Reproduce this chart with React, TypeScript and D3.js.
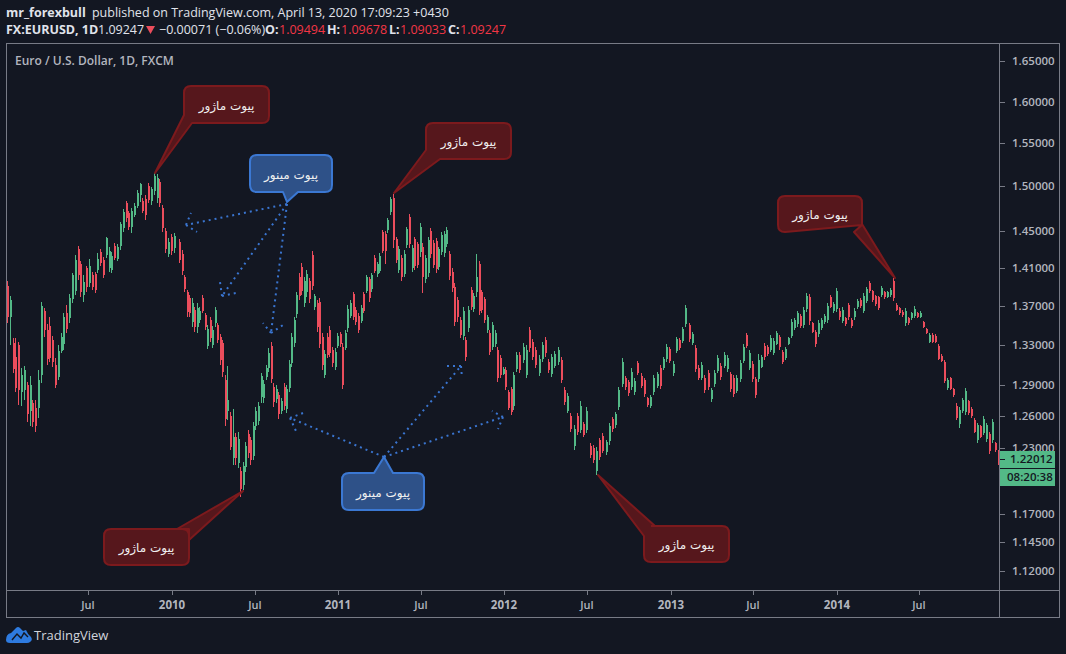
import React from "react";
import * as d3 from "d3";

const BG = "#131722", GREEN = "#53b987", RED = "#eb4d5c", AXIS = "#787b86", LABEL = "#b2b5be";

// Bars, one stretch at a time.
const datesA = ["2009-01-03", "2010-01-04"];
const highA = [1.396,1.3802,1.3365,1.3371,1.3325,1.3063,1.3087,1.2933,1.2991,1.2753,1.2753,1.3047,1.3743,1.3673,1.3508,1.3586,1.3389,1.3163,1.3297,1.3416,1.3621,1.3708,1.3823,1.4042,1.4238,1.4337,1.4177,1.4025,1.4123,1.4191,1.406,1.406,1.4257,1.43,1.4213,1.4439,1.4322,1.4275,1.4366,1.4358,1.4604,1.4741,1.4839,1.4726,1.4752,1.4809,1.496,1.5043,1.4865,1.4903,1.5035,1.4998,1.515,1.5142,1.5081,1.479,1.453,1.442,1.4469,1.4483];
const lowA = [1.3518,1.3297,1.3021,1.2834,1.2705,1.2698,1.2753,1.2545,1.2507,1.2498,1.245,1.2577,1.2916,1.3382,1.3097,1.313,1.308,1.2866,1.2949,1.3213,1.3247,1.3416,1.3518,1.3725,1.3813,1.3971,1.3795,1.3743,1.3848,1.3893,1.3865,1.383,1.4042,1.4116,1.3996,1.4202,1.406,1.4042,1.4184,1.4173,1.4293,1.4494,1.4604,1.4512,1.4476,1.4659,1.4752,1.4827,1.4697,1.4622,1.4809,1.479,1.4903,1.4809,1.4771,1.4494,1.4257,1.4213,1.4238,1.4264];
const openA = [1.391,1.358,1.332,1.318,1.33,1.283,1.285,1.29,1.265,1.272,1.268,1.268,1.3,1.365,1.345,1.349,1.335,1.31,1.298,1.324,1.331,1.362,1.357,1.377,1.386,1.43,1.414,1.381,1.41,1.394,1.402,1.404,1.408,1.427,1.418,1.424,1.41,1.408,1.434,1.42,1.434,1.453,1.481,1.47,1.454,1.468,1.478,1.49,1.484,1.486,1.501,1.484,1.495,1.487,1.505,1.476,1.45,1.425,1.443,1.431];
const closeA = [1.358,1.376,1.306,1.287,1.285,1.3,1.305,1.262,1.29,1.254,1.25,1.295,1.37,1.345,1.316,1.317,1.313,1.29,1.324,1.338,1.358,1.346,1.378,1.402,1.418,1.402,1.384,1.395,1.39,1.412,1.39,1.387,1.42,1.415,1.402,1.442,1.428,1.423,1.421,1.433,1.458,1.471,1.465,1.455,1.472,1.478,1.492,1.503,1.472,1.468,1.485,1.497,1.512,1.51,1.481,1.453,1.43,1.438,1.428,1.445];

const datesB = ["2010-01-16", "2011-01-04"];
const highB = [1.4409,1.4293,1.4024,1.3865,1.3812,1.3777,1.3684,1.3725,1.3691,1.3812,1.3622,1.3501,1.358,1.3491,1.3684,1.3525,1.3409,1.3348,1.2998,1.3087,1.2641,1.2663,1.2434,1.245,1.2125,1.2171,1.2356,1.2466,1.2403,1.2545,1.2689,1.2737,1.3021,1.2949,1.3097,1.3264,1.3324,1.2923,1.29,1.2834,1.2769,1.2916,1.29,1.3147,1.3416,1.3587,1.3848,1.4042,1.4148,1.3999,1.4077,1.3989,1.4282,1.3823,1.376,1.3777,1.3416,1.3247,1.3416,1.3491,1.3281,1.3264,1.3416,1.3433];
const lowB = [1.4148,1.4024,1.3848,1.3587,1.3587,1.3484,1.3433,1.3423,1.3518,1.3622,1.345,1.3257,1.3331,1.3264,1.3484,1.3314,1.3097,1.2982,1.2504,1.2561,1.2279,1.214,1.214,1.2109,1.185,1.1911,1.2079,1.2202,1.214,1.2186,1.2466,1.2513,1.2721,1.2727,1.2949,1.3031,1.2916,1.2689,1.2721,1.2571,1.2615,1.2657,1.2631,1.2834,1.3081,1.3281,1.357,1.376,1.3812,1.3691,1.3795,1.3725,1.3865,1.3656,1.3433,1.3264,1.3047,1.2965,1.3164,1.318,1.3081,1.3047,1.3264,1.3281];
const openB = [1.438,1.425,1.4,1.384,1.378,1.353,1.366,1.348,1.355,1.378,1.36,1.329,1.355,1.33,1.352,1.35,1.338,1.332,1.295,1.265,1.26,1.22,1.24,1.216,1.208,1.196,1.212,1.243,1.237,1.222,1.25,1.255,1.278,1.277,1.298,1.307,1.329,1.288,1.276,1.28,1.265,1.288,1.267,1.287,1.312,1.332,1.361,1.4,1.411,1.373,1.384,1.396,1.424,1.369,1.373,1.374,1.338,1.3,1.338,1.345,1.325,1.308,1.329,1.341];
const closeB = [1.418,1.407,1.388,1.364,1.362,1.373,1.348,1.368,1.365,1.365,1.348,1.346,1.337,1.345,1.366,1.335,1.315,1.303,1.257,1.275,1.231,1.24,1.22,1.238,1.192,1.213,1.232,1.225,1.219,1.25,1.265,1.27,1.299,1.291,1.307,1.322,1.296,1.273,1.286,1.262,1.274,1.27,1.286,1.311,1.338,1.355,1.381,1.38,1.386,1.396,1.404,1.377,1.391,1.38,1.348,1.331,1.31,1.321,1.32,1.322,1.312,1.323,1.339,1.331];

const datesC = ["2011-01-09", "2012-01-21"];
const highC = [1.3314,1.345,1.3708,1.376,1.3848,1.369,1.3622,1.3708,1.3848,1.4024,1.4006,1.4042,1.4239,1.4166,1.4257,1.4512,1.4505,1.4641,1.4884,1.4914,1.4439,1.4336,1.4239,1.4293,1.4549,1.4689,1.4347,1.4439,1.4384,1.4585,1.4366,1.4239,1.4439,1.4538,1.4402,1.442,1.4329,1.4494,1.4505,1.4542,1.4286,1.4095,1.3936,1.3795,1.3586,1.369,1.3382,1.3697,1.39,1.383,1.4246,1.4177,1.3865,1.3795,1.3605,1.345,1.3535,1.345,1.3281,1.3197,1.308,1.308,1.285,1.2882,1.3031];
const lowC = [1.286,1.3247,1.3433,1.3569,1.3552,1.3501,1.3423,1.3518,1.3622,1.383,1.3743,1.3848,1.4042,1.3999,1.4042,1.4257,1.4141,1.4482,1.4678,1.4311,1.4148,1.4042,1.3964,1.4006,1.4311,1.4311,1.4059,1.4077,1.4095,1.422,1.383,1.3943,1.4006,1.4202,1.4095,1.4042,1.4077,1.4239,1.422,1.4329,1.3971,1.3848,1.3491,1.3535,1.3365,1.3348,1.314,1.3433,1.3656,1.3639,1.3795,1.3605,1.3622,1.3518,1.3416,1.3197,1.3247,1.3281,1.2933,1.2965,1.2998,1.285,1.2657,1.2609,1.2657];
const openC = [1.328,1.327,1.347,1.359,1.382,1.366,1.359,1.354,1.382,1.386,1.398,1.388,1.421,1.403,1.407,1.449,1.447,1.451,1.471,1.487,1.441,1.408,1.421,1.404,1.435,1.466,1.41,1.441,1.436,1.427,1.433,1.398,1.405,1.45,1.437,1.439,1.411,1.427,1.426,1.436,1.425,1.406,1.39,1.376,1.355,1.339,1.335,1.347,1.387,1.367,1.384,1.414,1.384,1.377,1.345,1.342,1.328,1.331,1.325,1.317,1.301,1.305,1.283,1.286,1.27];
const closeC = [1.29,1.342,1.367,1.373,1.358,1.353,1.345,1.368,1.365,1.4,1.378,1.402,1.407,1.414,1.423,1.428,1.428,1.462,1.486,1.44,1.419,1.43,1.4,1.425,1.452,1.436,1.431,1.412,1.413,1.455,1.4,1.421,1.44,1.425,1.413,1.409,1.43,1.446,1.447,1.451,1.401,1.389,1.353,1.358,1.34,1.365,1.318,1.366,1.369,1.38,1.4,1.365,1.366,1.355,1.358,1.323,1.35,1.342,1.297,1.3,1.306,1.288,1.268,1.264,1.3];

const datesD = ["2012-01-27", "2013-06-22"];
const highD = [1.323,1.323,1.3314,1.3297,1.3477,1.3355,1.3281,1.3197,1.3331,1.3375,1.3154,1.3207,1.324,1.3274,1.318,1.2876,1.2817,1.2625,1.2514,1.2625,1.2743,1.2545,1.2683,1.234,1.2325,1.2309,1.2393,1.2434,1.2371,1.2536,1.2586,1.2641,1.2876,1.3164,1.2988,1.2949,1.3064,1.2965,1.3137,1.3014,1.2965,1.2785,1.2802,1.2998,1.3031,1.3097,1.318,1.3304,1.3281,1.3137,1.3382,1.3365,1.3484,1.3708,1.3525,1.3433,1.3297,1.3097,1.3131,1.2998,1.3047,1.2867,1.3047,1.3197,1.3114,1.323,1.3197,1.3031,1.2998,1.2998,1.3147,1.3307,1.3416,1.3247];
const lowD = [1.3031,1.3021,1.3114,1.2965,1.323,1.3147,1.3064,1.2988,1.3131,1.318,1.3021,1.2981,1.3064,1.3097,1.2916,1.2705,1.2625,1.245,1.2279,1.2418,1.2435,1.2396,1.2435,1.2201,1.2155,1.2048,1.2186,1.2248,1.2232,1.2325,1.245,1.2482,1.2657,1.2883,1.285,1.2792,1.285,1.2802,1.2998,1.2867,1.2785,1.2683,1.2673,1.2802,1.2867,1.2857,1.3047,1.3131,1.3114,1.2988,1.3214,1.3247,1.3314,1.3484,1.3331,1.3297,1.3031,1.2949,1.2949,1.2824,1.285,1.2737,1.2883,1.3014,1.2949,1.3064,1.3031,1.2834,1.2785,1.2817,1.2932,1.3114,1.3264,1.3047];
const openD = [1.306,1.32,1.315,1.3,1.345,1.333,1.325,1.302,1.316,1.335,1.313,1.301,1.309,1.313,1.315,1.285,1.265,1.26,1.232,1.26,1.247,1.252,1.247,1.232,1.23,1.208,1.237,1.241,1.226,1.236,1.257,1.251,1.269,1.291,1.297,1.293,1.288,1.283,1.312,1.299,1.295,1.277,1.27,1.283,1.289,1.307,1.307,1.316,1.326,1.302,1.324,1.335,1.334,1.351,1.35,1.332,1.327,1.307,1.297,1.297,1.302,1.276,1.291,1.304,1.309,1.309,1.306,1.301,1.297,1.284,1.296,1.314,1.34,1.307];
const closeD = [1.32,1.305,1.328,1.325,1.327,1.318,1.31,1.316,1.33,1.322,1.305,1.318,1.321,1.325,1.295,1.273,1.279,1.248,1.248,1.245,1.27,1.242,1.265,1.223,1.219,1.227,1.221,1.227,1.235,1.25,1.248,1.262,1.285,1.313,1.288,1.282,1.303,1.294,1.302,1.289,1.281,1.271,1.278,1.297,1.301,1.289,1.316,1.328,1.314,1.311,1.336,1.327,1.346,1.368,1.336,1.341,1.306,1.297,1.31,1.285,1.288,1.285,1.302,1.317,1.298,1.32,1.317,1.286,1.281,1.297,1.312,1.328,1.329,1.322];

const datesE = ["2013-06-28", "2014-12-21"];
const highE = [1.3137,1.2981,1.3204,1.3197,1.3314,1.3297,1.3399,1.3365,1.344,1.3399,1.3247,1.3281,1.3382,1.3562,1.3569,1.3646,1.361,1.369,1.3829,1.3819,1.3535,1.345,1.3552,1.3569,1.361,1.3725,1.3812,1.3743,1.3882,1.3673,1.369,1.3586,1.3733,1.3569,1.3673,1.377,1.3777,1.3829,1.39,1.3961,1.3865,1.3812,1.3805,1.3907,1.3855,1.3855,1.3882,1.3989,1.3725,1.369,1.3656,1.3673,1.3586,1.3639,1.3697,1.3639,1.3646,1.3542,1.3467,1.3416,1.3416,1.3406,1.3304,1.3204,1.3147,1.2965,1.2981,1.2866,1.2721,1.2689,1.2769,1.2875,1.2753,1.2689,1.2577,1.2529,1.2513,1.2599,1.2529,1.2451,1.257,1.2356,1.2279];
const lowE = [1.2932,1.2775,1.2932,1.3064,1.3147,1.319,1.323,1.3197,1.3297,1.3247,1.3104,1.3147,1.3297,1.3365,1.345,1.3484,1.3467,1.3467,1.3639,1.3501,1.3416,1.3281,1.3382,1.345,1.3508,1.3518,1.3673,1.3622,1.3639,1.3552,1.3518,1.3494,1.3552,1.3467,1.3552,1.3666,1.368,1.3622,1.3725,1.3829,1.3743,1.3701,1.3656,1.3795,1.377,1.3777,1.3795,1.375,1.3646,1.3604,1.3586,1.3494,1.3501,1.3552,1.3569,1.3569,1.3569,1.3467,1.3406,1.3314,1.3314,1.3314,1.3147,1.3124,1.2916,1.285,1.285,1.2785,1.2561,1.2488,1.2625,1.2609,1.2609,1.2577,1.2435,1.2346,1.2387,1.2419,1.2356,1.2239,1.234,1.2264,1.214];
const openE = [1.311,1.296,1.296,1.308,1.329,1.328,1.325,1.322,1.331,1.338,1.323,1.317,1.331,1.339,1.347,1.351,1.359,1.35,1.367,1.379,1.352,1.343,1.341,1.347,1.353,1.355,1.379,1.365,1.367,1.365,1.354,1.357,1.371,1.355,1.358,1.369,1.376,1.365,1.375,1.394,1.385,1.38,1.379,1.381,1.384,1.379,1.381,1.396,1.371,1.368,1.364,1.352,1.357,1.357,1.359,1.362,1.358,1.353,1.346,1.333,1.34,1.339,1.329,1.319,1.313,1.287,1.297,1.286,1.27,1.252,1.265,1.264,1.274,1.267,1.256,1.237,1.25,1.244,1.238,1.243,1.237,1.234,1.226];
const closeE = [1.296,1.28,1.315,1.318,1.318,1.321,1.337,1.334,1.342,1.328,1.313,1.326,1.337,1.353,1.355,1.362,1.349,1.366,1.38,1.354,1.343,1.331,1.352,1.355,1.359,1.37,1.369,1.372,1.385,1.358,1.366,1.351,1.358,1.349,1.365,1.375,1.37,1.38,1.388,1.386,1.376,1.372,1.368,1.389,1.379,1.384,1.387,1.378,1.366,1.362,1.36,1.365,1.352,1.363,1.367,1.358,1.363,1.348,1.342,1.34,1.333,1.333,1.316,1.314,1.294,1.295,1.286,1.28,1.258,1.266,1.275,1.284,1.263,1.26,1.245,1.251,1.24,1.257,1.251,1.227,1.254,1.228,1.2201];

const stretches = [
  { dates: datesA, high: highA, low: lowA, open: openA, close: closeA },
  { dates: datesB, high: highB, low: lowB, open: openB, close: closeB },
  { dates: datesC, high: highC, low: lowC, open: openC, close: closeC },
  { dates: datesD, high: highD, low: lowD, open: openD, close: closeD },
  { dates: datesE, high: highE, low: lowE, open: openE, close: closeE },
];

const priceTicks = [1.65, 1.6, 1.55, 1.5, 1.45, 1.41, 1.37, 1.33, 1.29, 1.26, 1.23, 1.17, 1.145, 1.12];
const timeTicks: [string, string, boolean][] = [
  ["2009-07-01", "Jul", false], ["2010-01-01", "2010", true], ["2010-07-01", "Jul", false],
  ["2011-01-01", "2011", true], ["2011-07-01", "Jul", false], ["2012-01-01", "2012", true],
  ["2012-07-01", "Jul", false], ["2013-01-01", "2013", true], ["2013-07-01", "Jul", false],
  ["2014-01-01", "2014", true], ["2014-07-01", "Jul", false],
];
const lastPrice = 1.22012;
const countdown = "08:20:38";
const MAJOR = "پیوت ماژور";
const MINOR = "پیوت مینور";

const parse = d3.utcParse("%Y-%m-%d");
const x = d3.scaleUtc().domain([parse("2009-01-03")!, parse("2014-12-23")!]).range([7, 999]);
const y = d3.scaleLog().domain([1.12, 1.65]).range([571, 61]);

const bars = stretches.flatMap((s) => {
  const t = d3.scaleLinear().domain([0, s.high.length - 1]).range([+parse(s.dates[0])!, +parse(s.dates[1])!]);
  return s.high.map((h, i) => ({ date: new Date(t(i)), high: h, low: s.low[i], open: s.open[i], close: s.close[i] }));
});

const FONT = "'Open Sans', 'Noto Sans', sans-serif";

type Callout = { box: [number, number, number, number]; tail: [number, number][]; text: string; minor?: boolean };
const callouts: Callout[] = [
  { box: [184, 86, 85, 37], tail: [[184, 115], [155, 173], [192, 123]], text: MAJOR },
  { box: [426, 123, 85, 36], tail: [[426, 150], [394, 193], [440, 159]], text: MAJOR },
  { box: [778, 196, 84, 36], tail: [[862, 224], [895, 278], [854, 232]], text: MAJOR },
  { box: [104, 529, 85, 36], tail: [[189, 540], [243, 491], [177, 529]], text: MAJOR },
  { box: [644, 526, 85, 36], tail: [[644, 536], [598, 475], [655, 526]], text: MAJOR },
  { box: [250, 155, 82, 37], tail: [[283, 192], [287, 202], [298, 192]], text: MINOR, minor: true },
  { box: [342, 473, 82, 37], tail: [[374, 473], [384, 457], [393, 473]], text: MINOR, minor: true },
];

type Arrow = { from: [number, number]; to: [number, number]; barbs: [[number, number], [number, number]] };
const arrows: Arrow[] = [
  { from: [287, 204], to: [186, 225], barbs: [[191, 213], [197, 232]] },
  { from: [287, 204], to: [222, 296], barbs: [[220, 282], [236, 293]] },
  { from: [287, 204], to: [271, 333], barbs: [[263, 323], [283, 325]] },
  { from: [384, 457], to: [290, 418], barbs: [[303, 413], [296, 431]] },
  { from: [384, 457], to: [461, 366], barbs: [[447, 366], [462, 378]] },
  { from: [384, 457], to: [503, 417], barbs: [[492, 411], [498, 429]] },
];

function calloutPath(c: Callout) {
  const [bx, by, bw, bh] = c.box;
  const r = 7;
  const [a, tip, b] = c.tail;
  const p = d3.path();
  const edgeTop = a[1] === by;
  const edgeBottom = a[1] === by + bh;
  const edgeLeft = a[0] === bx;
  const edgeRight = a[0] === bx + bw;
  p.moveTo(bx + r, by);
  if (edgeTop) { p.lineTo(Math.min(a[0], b[0]), by); p.lineTo(tip[0], tip[1]); p.lineTo(Math.max(a[0], b[0]), by); }
  p.lineTo(bx + bw - r, by);
  p.quadraticCurveTo(bx + bw, by, bx + bw, by + r);
  if (edgeRight) { p.lineTo(a[0], a[1]); p.lineTo(tip[0], tip[1]); p.lineTo(b[0], b[1]); p.lineTo(bx + bw, by + bh - r > b[1] ? b[1] : by + bh - r); }
  if (!(edgeRight && b[1] === by + bh)) p.lineTo(bx + bw, by + bh - r);
  if (!(edgeRight && b[1] === by + bh)) p.quadraticCurveTo(bx + bw, by + bh, bx + bw - r, by + bh);
  if (edgeBottom) { p.lineTo(Math.max(a[0], b[0]), by + bh); p.lineTo(tip[0], tip[1]); p.lineTo(Math.min(a[0], b[0]), by + bh); }
  if (edgeLeft && b[1] === by + bh) {
    p.lineTo(b[0], b[1]); p.lineTo(tip[0], tip[1]); p.lineTo(a[0], a[1]); p.lineTo(bx, by + r);
  } else if (edgeLeft && b[1] === by) {
    p.lineTo(bx + r, by + bh);
    p.quadraticCurveTo(bx, by + bh, bx, by + bh - r);
    p.lineTo(a[0], a[1]); p.lineTo(tip[0], tip[1]); p.lineTo(b[0], b[1]);
    p.lineTo(bx + r, by);
    return p.toString();
  } else {
    p.lineTo(bx + r, by + bh);
    p.quadraticCurveTo(bx, by + bh, bx, by + bh - r);
    p.lineTo(bx, by + r);
  }
  p.quadraticCurveTo(bx, by, bx + r, by);
  p.closePath();
  return p.toString();
}

export default function App() {
  return (
    <svg width={1066} height={654} style={{ position: "absolute", left: 0, top: 0, display: "block" }} fontFamily={FONT}>
      <rect width={1066} height={654} fill={BG} />
      <defs>
        <clipPath id="pane"><rect x={7} y={44} width={992} height={546} /></clipPath>
      </defs>

      {/* header */}
      <text x={6} y={17} fontSize={12.5} fill="#e0e3eb">
        <tspan fontWeight={700}>mr_forexbull</tspan>
        <tspan dx={3}> published on TradingView.com, April 13, 2020 17:09:23 +0430</tspan>
      </text>
      <text x={6} y={34} fontSize={12.5} fill="#e0e3eb" fontWeight={700}>FX:EURUSD, 1D</text>
      <text x={98} y={34} fontSize={12.5} fill="#e0e3eb">1.09247</text>
      <path d="M146,26H155L150.5,34Z" fill={RED} />
      <text x={159} y={34} fontSize={12.5} fill="#e0e3eb">−0.00071 (−0.06%)</text>
      {[["O:", 265, "1.09494", 279], ["H:", 327, "1.09678", 341], ["L:", 389, "1.09033", 400], ["C:", 448, "1.09247", 460]].map(([a, ax, b, bx]) => (
        <g key={a as string}>
          <text x={ax as number} y={34} fontSize={12.5} fontWeight={700} fill="#e0e3eb">{a}</text>
          <text x={bx as number} y={34} fontSize={12.5} fill="#f23645">{b}</text>
        </g>
      ))}

      {/* candles */}
      <g clipPath="url(#pane)" shapeRendering="crispEdges">
        {bars.map((d, i) => {
          const cx = Math.round(x(d.date));
          const up = d.close >= d.open;
          const col = up ? GREEN : RED;
          const top = y(Math.max(d.open, d.close));
          const bot = y(Math.min(d.open, d.close));
          return (
            <g key={i} fill={col}>
              <rect x={cx} y={y(d.high)} width={1} height={y(d.low) - y(d.high)} />
              <rect x={cx - 0.5} y={top} width={2} height={Math.max(1, bot - top)} />
            </g>
          );
        })}
      </g>

      {/* dotted arrows */}
      <g fill="none" stroke="#3a75d0" strokeWidth={2} strokeDasharray="2 4" clipPath="url(#pane)">
        {arrows.map((a, i) => (
          <g key={i}>
            <line x1={a.from[0]} y1={a.from[1]} x2={a.to[0]} y2={a.to[1]} />
            <line x1={a.to[0]} y1={a.to[1]} x2={a.barbs[0][0]} y2={a.barbs[0][1]} />
            <line x1={a.to[0]} y1={a.to[1]} x2={a.barbs[1][0]} y2={a.barbs[1][1]} />
          </g>
        ))}
      </g>

      {/* callouts */}
      {callouts.map((c, i) => (
        <g key={i}>
          <path d={calloutPath(c)} fill={c.minor ? "#2e5188" : "#56171c"} stroke={c.minor ? "#3b78d3" : "#7c1a1d"} strokeWidth={2} strokeLinejoin="round" />
          <text x={c.box[0] + c.box[2] / 2} y={c.box[1] + c.box[3] / 2 + 5} textAnchor="middle" fontFamily="'DejaVu Sans', sans-serif" fontSize={12} fill="#f0f0f0">{c.text}</text>
        </g>
      ))}

      {/* pane text */}
      <text x={15} y={65} fontSize={12} fontWeight={600} fill={LABEL}>Euro / U.S. Dollar, 1D, FXCM</text>

      {/* frame */}
      <g fill="none" stroke={AXIS} shapeRendering="crispEdges">
        <rect x={6.5} y={43.5} width={1053} height={574} />
        <line x1={999.5} y1={43} x2={999.5} y2={618} />
        <line x1={6} y1={590.5} x2={1060} y2={590.5} />
      </g>

      {/* price axis */}
      <g fontSize={11.5} fill={LABEL} fontWeight={600}>
        {priceTicks.map((p) => (
          <g key={p}>
            <line x1={1000} x2={1005} y1={Math.round(y(p)) + 0.5} y2={Math.round(y(p)) + 0.5} stroke={AXIS} />
            <text x={1012} y={y(p) + 4}>{p.toFixed(5)}</text>
          </g>
        ))}
      </g>
      <rect x={1000} y={451} width={55} height={17} fill={GREEN} />
      <line x1={1000} x2={1005} y1={459.5} y2={459.5} stroke={BG} />
      <text x={1010} y={463} fontSize={11.5} fontWeight={600} fill={BG}>{lastPrice.toFixed(5)}</text>
      <rect x={1000} y={469} width={55} height={17} fill={GREEN} />
      <text x={1007} y={481} fontSize={11.5} fontWeight={600} fill={BG}>{countdown}</text>

      {/* time axis */}
      {timeTicks.map(([d, label, major]) => {
        const tx = Math.round(x(parse(d)!));
        return (
          <g key={d}>
            <line x1={tx + 0.5} x2={tx + 0.5} y1={591} y2={595} stroke={AXIS} />
            <text x={tx} y={609} textAnchor="middle" fontSize={major ? 11.5 : 11} fontWeight={major ? 700 : 600} fill={LABEL}>{label}</text>
          </g>
        );
      })}

      {/* logo */}
      <path d="M6,640 Q6,634 11,633 L16,628 Q18,626 20,628 L23,631 L26,630 Q28,635 31,637 Q33,640 30,642 Q29,643 27,643 L10,643 Q6,643 6,640 Z" fill="#2e7be0" />
      <path d="M12,640 L17,634 L21,638 L24,633 L28,637" fill="none" stroke={BG} strokeWidth={1.4} />
      <text x={34} y={640} fontSize={13} fill="#d1d4dc">TradingView</text>
    </svg>
  );
}
